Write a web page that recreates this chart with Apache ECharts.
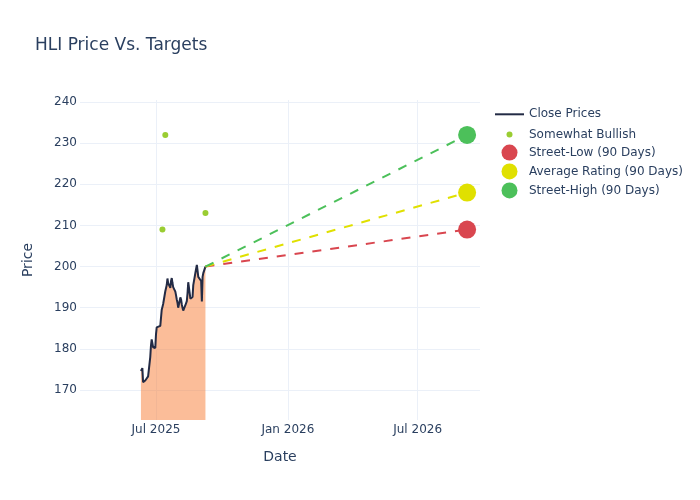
<!DOCTYPE html>
<html><head><meta charset="utf-8">
<script src="https://cdn.jsdelivr.net/npm/echarts@6/dist/echarts.min.js"></script>
<style>html,body{margin:0;padding:0;background:#fff}#c{width:700px;height:500px}</style>
</head><body><div id="c"></div>
<script>
const closeDates = ['2025-06-10','2025-06-11','2025-06-12','2025-06-13','2025-06-16','2025-06-17','2025-06-18','2025-06-20',
'2025-06-23','2025-06-24','2025-06-25','2025-06-26','2025-06-27','2025-06-30','2025-07-01','2025-07-02','2025-07-03',
'2025-07-07','2025-07-08','2025-07-09','2025-07-10','2025-07-11','2025-07-14','2025-07-15','2025-07-16','2025-07-17','2025-07-18',
'2025-07-21','2025-07-22','2025-07-23','2025-07-24','2025-07-25','2025-07-28','2025-07-29','2025-07-30','2025-07-31','2025-08-01',
'2025-08-04','2025-08-05','2025-08-06','2025-08-07','2025-08-08','2025-08-11','2025-08-12','2025-08-13','2025-08-14','2025-08-15',
'2025-08-18','2025-08-19','2025-08-20','2025-08-21','2025-08-22','2025-08-25','2025-08-26','2025-08-27','2025-08-28','2025-08-29',
'2025-09-02','2025-09-03','2025-09-04','2025-09-05','2025-09-08'];
const closePrices = [174.6,175.0,175.3,171.9,172.3,172.0,172.8,173.3,
178.0,180.8,182.3,182.0,180.4,180.2,183.5,185.2,185.0,
185.6,185.3,189.5,190.2,190.9,194.0,194.4,195.5,197.1,196.0,
194.8,196.5,197.2,196.0,195.0,193.9,193.0,192.0,191.2,190.0,
192.5,192.0,190.8,190.0,189.3,190.6,191.0,191.6,193.5,196.2,
192.2,191.8,192.4,192.6,195.5,198.5,199.5,200.4,199.0,197.5,
196.5,191.5,197.5,198.4,200.0];
const bullishDates = ['2025-07-14','2025-07-10','2025-09-08'];
const bullishTargets = [232, 209, 213];
const targetDate = '2026-09-08';
const targetNames = ['Street-Low (90 Days)','Average Rating (90 Days)','Street-High (90 Days)'];
const targetValues = [209, 218, 232];
const targetColors = ['#d9464f','#e0e000','#4cc05a'];
const yTicks = [170,180,190,200,210,220,230,240];
const xTicks = ['2025-07-01','2026-01-01','2026-07-01'];
const months = ['Jan','Feb','Mar','Apr','May','Jun','Jul','Aug','Sep','Oct','Nov','Dec'];

const ts = s => new Date(s + 'T00:00:00').getTime();
const txt = '#2a3f5f';
const font = 'DejaVu Sans';
const lastDate = closeDates[closeDates.length-1];
const lastClose = closePrices[closePrices.length-1];

const series = [];
series.push({
  type:'line', name:'grid', data:[[ts(xTicks[0]), null]], z:0, silent:true, symbol:'none',
  markLine:{silent:true, z:0, symbol:['none','none'], animation:false, label:{show:false},
    lineStyle:{color:'#ebf0f8', width:1, type:'solid'},
    emphasis:{disabled:true},
    data:[...yTicks.map(v=>({yAxis:v})), ...xTicks.map(d=>({xAxis:ts(d)}))]}
});
series.push({
  type:'line', name:'Close Prices', symbol:'none', z:2,
  data: closeDates.map((d,i)=>[ts(d), closePrices[i]]),
  lineStyle:{color:'#232b45', width:2},
  itemStyle:{color:'#232b45'},
  areaStyle:{color:'rgba(248,128,60,0.52)', opacity:1, origin:'start'}
});
targetNames.forEach((n,i)=>{
  series.push({
    type:'line', name:n+' line', symbol:'none', z:3,
    data:[[ts(lastDate), lastClose],[ts(targetDate), targetValues[i]]],
    lineStyle:{color:targetColors[i], width:2, type:[9,9]}
  });
});
series.push({
  type:'scatter', name:'Somewhat Bullish', symbol:'circle', symbolSize:6, z:4,
  data: bullishDates.map((d,i)=>[ts(d), bullishTargets[i]]),
  itemStyle:{color:'#9acd32', opacity:1}
});
targetNames.forEach((n,i)=>{
  series.push({
    type:'scatter', name:n, symbol:'circle', symbolSize:18, z:5,
    data:[[ts(targetDate), targetValues[i]]],
    itemStyle:{color:targetColors[i], opacity:1}
  });
});

const legendBase = {orient:'vertical', padding:0, itemWidth:29, selectedMode:false,
  textStyle:{color:txt, fontFamily:font, fontSize:12}};
const legends = [
  Object.assign({}, legendBase, {left:495, top:108.3, itemHeight:2,
    data:[{name:'Close Prices', icon:'path://M0,0L29,0L29,2L0,2Z'}]}),
  Object.assign({}, legendBase, {left:506.5, top:128.6, itemHeight:6, data:['Somewhat Bullish']}),
  Object.assign({}, legendBase, {left:501.5, top:144.6, itemHeight:16, data:[targetNames[0]]}),
  Object.assign({}, legendBase, {left:501.5, top:163.4, itemHeight:16, data:[targetNames[1]]}),
  Object.assign({}, legendBase, {left:501.5, top:182.4, itemHeight:16, data:[targetNames[2]]})
];

const chart = echarts.init(document.getElementById('c'), null, {renderer:'canvas'});
chart.setOption({
  animation:false,
  backgroundColor:'#fff',
  title:{text:'HLI Price Vs. Targets', left:35, top:37, padding:0,
    textStyle:{color:txt, fontFamily:font, fontSize:17, fontWeight:'normal'}},
  legend: legends,
  grid:{left:80, right:220, top:100, bottom:80},
  xAxis:{type:'value', min:ts('2025-03-17'), max:ts('2026-09-26'),
    name:'Date', nameLocation:'middle', nameGap:30,
    nameTextStyle:{color:txt, fontFamily:font, fontSize:14},
    axisLine:{show:false}, axisTick:{show:false}, splitLine:{show:false},
    axisLabel:{color:txt, fontFamily:font, fontSize:12, margin:4,
      customValues: xTicks.map(ts),
      formatter: v => { const d = new Date(v); return months[d.getMonth()] + ' ' + d.getFullYear(); }}
  },
  yAxis:{type:'value', min:162.7, max:240.5,
    name:'Price', nameLocation:'middle', nameGap:45, nameRotate:90,
    nameTextStyle:{color:txt, fontFamily:font, fontSize:14},
    axisLine:{show:false}, axisTick:{show:false}, splitLine:{show:false},
    axisLabel:{color:txt, fontFamily:font, fontSize:12, margin:3, customValues: yTicks}
  },
  series: series
});
</script></body></html>
